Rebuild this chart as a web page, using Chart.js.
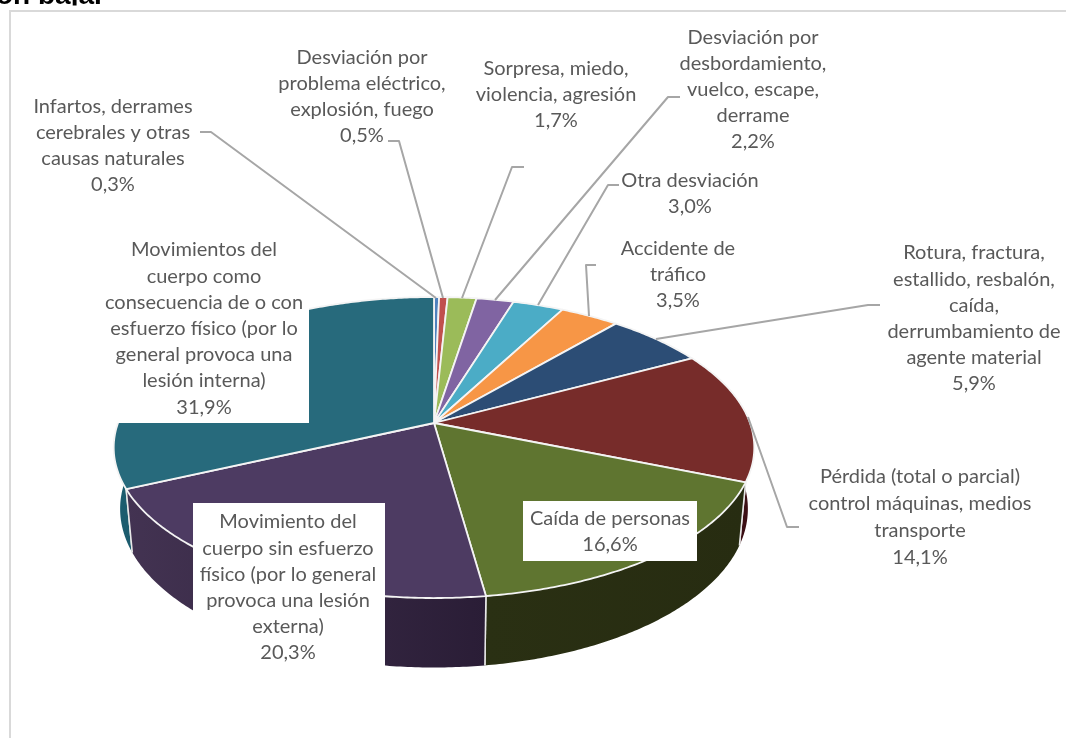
<!DOCTYPE html>
<html><head><meta charset="utf-8">
<style>html,body{margin:0;padding:0;background:#fff}canvas{display:block}</style>
<script src="https://cdn.jsdelivr.net/npm/chart.js@4"></script>
</head><body><canvas id="c" width="1066" height="738"></canvas>
<script>
const categories = [
  "Infartos, derrames cerebrales y otras causas naturales",
  "Desviación por problema eléctrico, explosión, fuego",
  "Sorpresa, miedo, violencia, agresión",
  "Desviación por desbordamiento, vuelco, escape, derrame",
  "Otra desviación",
  "Accidente de tráfico",
  "Rotura, fractura, estallido, resbalón, caída, derrumbamiento de agente material",
  "Pérdida (total o parcial) control máquinas, medios transporte",
  "Caída de personas",
  "Movimiento del cuerpo sin esfuerzo físico (por lo general provoca una lesión externa)",
  "Movimientos del cuerpo como consecuencia de o con esfuerzo físico (por lo general provoca una lesión interna)"
];
const values = [0.3, 0.5, 1.7, 2.2, 3.0, 3.5, 5.9, 14.1, 16.6, 20.3, 31.9];
const colors = ["#4F81BD","#C0504D","#9BBB59","#8064A2","#4BACC6","#F79646","#2C4D75","#772C2A","#5F7530","#4D3B62","#276A7C"];
const wallColors = [["#2a4060","#2a4060"],["#602826","#602826"],["#4e5e2c","#4e5e2c"],["#403251","#403251"],["#265663","#265663"],["#7c4b23","#7c4b23"],["#16263b","#16263b"],["#3c0f14","#3c0f14"],["#2a3013","#272c11"],["#433352","#2a1d36"],["#1c5c6e","#1c5c6e"]];
const labelLines = [
  ["Infartos, derrames","cerebrales y otras","causas naturales","0,3%"],
  ["Desviación por","problema eléctrico,","explosión, fuego","0,5%"],
  ["Sorpresa, miedo,","violencia, agresión","1,7%"],
  ["Desviación por","desbordamiento,","vuelco, escape,","derrame","2,2%"],
  ["Otra desviación","3,0%"],
  ["Accidente de","tráfico","3,5%"],
  ["Rotura, fractura,","estallido, resbalón,","caída,","derrumbamiento de","agente material","5,9%"],
  ["Pérdida (total o parcial)","control máquinas, medios","transporte","14,1%"],
  ["Caída de personas","16,6%"],
  ["Movimiento del","cuerpo sin esfuerzo","físico (por lo general","provoca una lesión","externa)","20,3%"],
  ["Movimientos del","cuerpo como","consecuencia de o con","esfuerzo físico (por lo","general provoca una","lesión interna)","31,9%"]
];
// label layout: centre x, first line y, line step
const labelPos = [[113,107,26],[362,58,26],[556,69,26],[753,38,26],[690,181,26],[678,249,26],[974,253,26.2],[920,477,27],[610,519,26],[288,522,26.2],[204,250,26.2]];
const labelBoxes = {8:[523,501,174,60],9:[193,503,192,164],10:[100,237,209,186]};
const leaders = [
  [[200,132],[211,132],[436,298]],
  [[388,141],[399,141],[443,298]],
  [[524,167],[512,167],[462,298]],
  [[680,97],[668,97],[495,300]],
  [[619,185],[608,185],[538,305]],
  [[596,265],[586,265],[589,316]],
  [[880,305],[868,305],[656,339]],
  [[799,527],[787,527],[748,417]]
];
// view projection of the pie plane
const view = {cx:434, cy:423, R:316, sR:146.5, k:0.163, wallScale:0.98, depth:60, depthPow:1.1};
function proj(a, r, lower){
  const u=Math.cos(a)*r, v=Math.sin(a)*r, w=1/(1-view.k*v);
  let x=view.R*u*w, y=view.sR*v*w;
  if(lower){ x*=view.wallScale; y=y*view.wallScale+view.depth*Math.pow(w,view.depthPow); }
  return [view.cx+x, view.cy+y];
}
function segPath(ctx,a0,a1,lower){
  const n=Math.max(2,Math.ceil((a1-a0)/0.01));
  const pts=[];
  for(let i=0;i<=n;i++) pts.push(proj(a0+(a1-a0)*i/n,1,lower));
  return pts;
}
const pie3d = {
  id:'pie3d',
  beforeDatasetsDraw(chart){
    const ctx=chart.ctx, arcs=chart.getDatasetMeta(0).data;
    ctx.save();
    // frame and clipped title
    ctx.strokeStyle="#D9D9D9"; ctx.lineWidth=2;
    ctx.beginPath(); ctx.moveTo(10,738); ctx.lineTo(10,11); ctx.lineTo(1066,11); ctx.stroke();
    ctx.save();
    ctx.beginPath(); ctx.rect(0,0,1066,5.5); ctx.clip();
    ctx.fillStyle="#000"; ctx.font="bold 28px 'Liberation Sans'"; ctx.textAlign="left"; ctx.textBaseline="alphabetic";
    ctx.fillText("on baja.",-4,4);
    ctx.restore();
    // side walls, back to front
    const order=arcs.map((a,i)=>i).sort((p,q)=>{
      const m=i=>Math.sin((arcs[i].startAngle+arcs[i].endAngle)/2);
      return m(p)-m(q);
    });
    for(const i of order){
      const arc=arcs[i];
      const top=segPath(ctx,arc.startAngle,arc.endAngle,false), bot=segPath(ctx,arc.startAngle,arc.endAngle,true).reverse();
      const g=ctx.createLinearGradient(top[0][0],0,top[top.length-1][0],0);
      g.addColorStop(0,wallColors[i][1]); g.addColorStop(1,wallColors[i][0]);
      ctx.fillStyle=g;
      ctx.beginPath();
      [...top,...bot].forEach((p,j)=>j?ctx.lineTo(p[0],p[1]):ctx.moveTo(p[0],p[1]));
      ctx.closePath(); ctx.fill();
      // white edges at wedge boundaries on the wall
      ctx.strokeStyle="#E8E8E8"; ctx.lineWidth=1.5;
      for(const a of [arc.startAngle,arc.endAngle]){
        if(Math.sin(a)>0.15){
          const t=proj(a,1,false), b=proj(a,1,true);
          ctx.beginPath(); ctx.moveTo(t[0],t[1]); ctx.lineTo(b[0],b[1]); ctx.stroke();
        }
      }
    }
    // top faces
    arcs.forEach((arc,i)=>{
      const pts=segPath(ctx,arc.startAngle,arc.endAngle,false);
      ctx.beginPath(); ctx.moveTo(view.cx,view.cy);
      pts.forEach(p=>ctx.lineTo(p[0],p[1]));
      ctx.closePath();
      ctx.fillStyle=arc.options.backgroundColor; ctx.fill();
      ctx.strokeStyle="#F4F4F4"; ctx.lineWidth=1.8; ctx.lineJoin="round"; ctx.stroke();
    });
    ctx.restore();
    return false;
  },
  afterDraw(chart){
    const ctx=chart.ctx;
    ctx.save();
    ctx.strokeStyle="#A6A6A6"; ctx.lineWidth=2; ctx.lineJoin="round";
    leaders.forEach(l=>{ctx.beginPath();l.forEach((p,j)=>j?ctx.lineTo(p[0],p[1]):ctx.moveTo(p[0],p[1]));ctx.stroke();});
    ctx.fillStyle="#fff";
    Object.values(labelBoxes).forEach(b=>ctx.fillRect(b[0],b[1],b[2],b[3]));
    ctx.fillStyle="#595959"; ctx.font="20px Lato"; ctx.textAlign="center"; ctx.textBaseline="middle";
    labelLines.forEach((lines,i)=>{
      const [x,y,s]=labelPos[i];
      lines.forEach((t,j)=>ctx.fillText(t,x,y+j*s));
    });
    ctx.restore();
  }
};
new Chart(document.getElementById('c'),{
  type:'pie',
  data:{labels:categories,datasets:[{data:values,backgroundColor:colors,borderWidth:0}]},
  options:{responsive:false,animation:false,rotation:0,circumference:360,
    plugins:{legend:{display:false},tooltip:{enabled:false},title:{display:false}}},
  plugins:[pie3d]
});
</script></body></html>
